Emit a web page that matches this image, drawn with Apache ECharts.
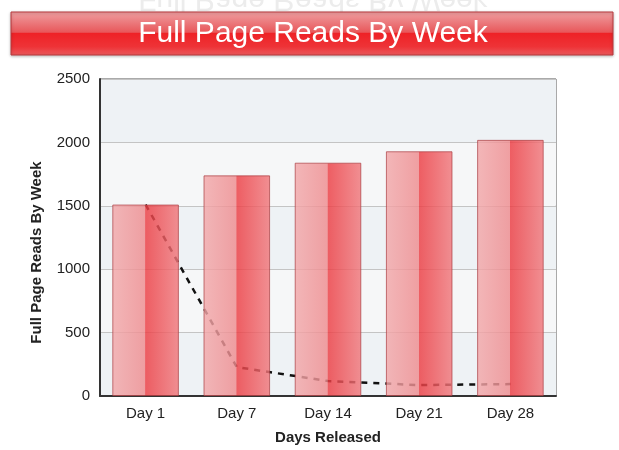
<!DOCTYPE html>
<html>
<head>
<meta charset="utf-8">
<script src="https://cdn.jsdelivr.net/npm/echarts@6/dist/echarts.min.js"></script>
<style>
  html, body { margin: 0; padding: 0; background: #fff; }
  #main { width: 619px; height: 450px; }
</style>
</head>
<body>
<div id="main"></div>
<script>
const days = ['Day 1', 'Day 7', 'Day 14', 'Day 21', 'Day 28']
const fullReads = [1510, 1740, 1840, 1930, 2020]
const trendLine = [1510, 228, 118, 86, 94]
const chartTitle = 'Full Page Reads By Week'

const chart = echarts.init(document.getElementById('main'))
const font = 'Liberation Sans, Arial, sans-serif'

chart.setOption({
  animation: false,
  textStyle: { fontFamily: font },
  graphic: [
    // faint mirrored title peeking above the banner
    {
      type: 'text', z: 1, x: 313, y: 14,
      scaleY: -1,
      style: {
        text: chartTitle, fill: '#ececec', font: '30px ' + font,
        align: 'center', verticalAlign: 'top'
      }
    },
    {
      type: 'rect', z: 5,
      shape: { x: 11, y: 12, width: 602, height: 43 },
      style: {
        fill: new echarts.graphic.LinearGradient(0, 0, 0, 1, [
          { offset: 0, color: '#efa0a2' },
          { offset: 0.47, color: '#e8585b' },
          { offset: 0.5, color: '#ee2226' },
          { offset: 0.8, color: '#ee3337' },
          { offset: 1, color: '#ea5a5d' }
        ]),
        stroke: '#b8393c', lineWidth: 1,
        shadowColor: 'rgba(0,0,0,0.25)', shadowBlur: 3, shadowOffsetY: 1
      }
    },
    {
      type: 'text', z: 6, x: 313, y: 34,
      style: {
        text: chartTitle, fill: '#fff', font: '30px ' + font,
        align: 'center', verticalAlign: 'middle'
      }
    }
  ],
  grid: {
    left: 100, right: 63, top: 79, bottom: 53,
    show: true, borderColor: '#555', borderWidth: 1
  },
  xAxis: {
    type: 'category',
    data: days,
    name: 'Days Released',
    nameLocation: 'middle',
    nameGap: 34,
    nameTextStyle: { fontSize: 15, fontWeight: 'bold', color: '#222' },
    axisLine: { lineStyle: { color: '#333', width: 2 } },
    axisTick: { show: false },
    axisLabel: { color: '#222', fontSize: 15, margin: 10 }
  },
  yAxis: {
    type: 'value',
    min: 0, max: 2500, interval: 500,
    name: 'Full Page Reads By Week',
    nameLocation: 'middle',
    nameGap: 56,
    nameTextStyle: { fontSize: 15, fontWeight: 'bold', color: '#222', padding: [0, 30, 0, 0] },
    axisLine: { show: true, lineStyle: { color: '#333', width: 2 } },
    axisTick: { show: false },
    axisLabel: { color: '#222', fontSize: 15, margin: 10, formatter: v => String(v) },
    splitLine: { lineStyle: { color: '#c4c4c4' } },
    splitArea: { show: true, areaStyle: { color: ['#eef2f5', '#f6f7f8'] } }
  },
  series: [
    {
      type: 'line',
      data: trendLine,
      z: 1,
      symbol: 'none',
      lineStyle: { color: '#111', width: 2.5, type: [6, 6] }
    },
    {
      type: 'bar',
      data: fullReads,
      z: 3,
      barWidth: '73%',
      itemStyle: {
        color: new echarts.graphic.LinearGradient(0, 0, 1, 0, [
          { offset: 0, color: 'rgba(242,168,170,0.82)' },
          { offset: 0.49, color: 'rgba(238,140,143,0.82)' },
          { offset: 0.5, color: 'rgba(236,60,66,0.82)' },
          { offset: 1, color: 'rgba(240,120,124,0.82)' }
        ]),
        borderColor: 'rgba(170,60,64,0.7)',
        borderWidth: 1
      }
    }
  ]
})
</script>
</body>
</html>
